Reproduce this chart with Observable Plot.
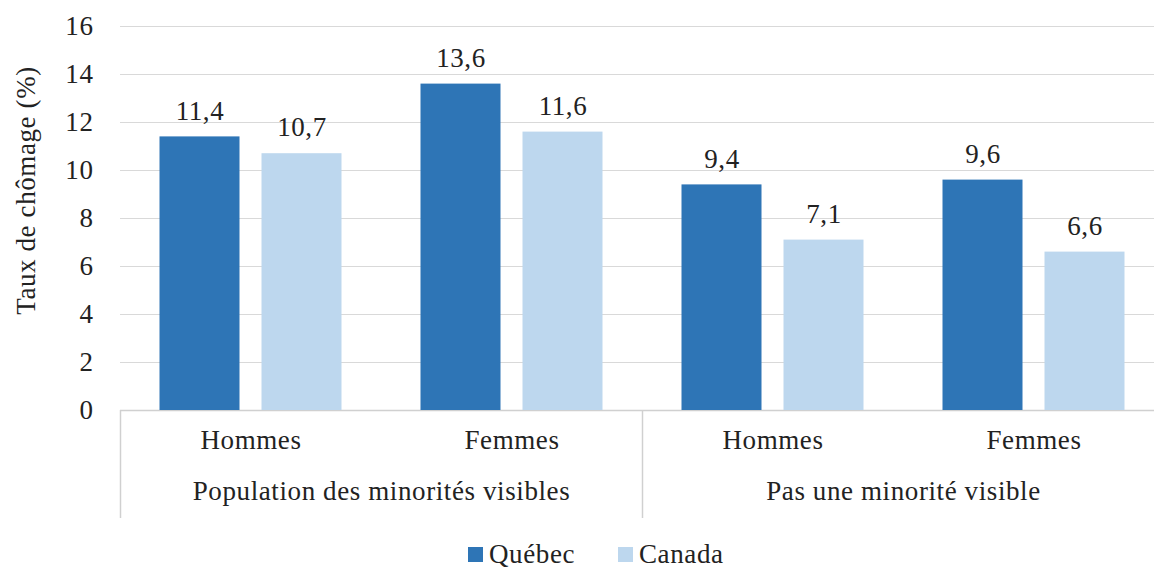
<!DOCTYPE html>
<html>
<head>
<meta charset="utf-8">
<script src="https://cdn.jsdelivr.net/npm/d3@7"></script>
<script src="https://cdn.jsdelivr.net/npm/@observablehq/plot@0.6"></script>
<style>
  html, body { margin: 0; padding: 0; background: #fff; }
  body { width: 1154px; height: 570px; overflow: hidden; font-family: "Liberation Serif", "Times New Roman", serif; color: #222; }
  #legend { position: relative; height: 40px; font-size: 27px; letter-spacing: 0.6px; }
  .item { position: absolute; top: 9px; display: flex; align-items: center; gap: 6px; line-height: 30px; }
  .sw { width: 15px; height: 15px; display: inline-block; }
</style>
</head>
<body>
<div id="chart"></div>
<div id="legend"></div>
<script>
// ---- data ----
const supergroups = ["Population des minorités visibles", "Pas une minorité visible"];
const sexes = ["Hommes", "Femmes"];
const seriesNames = ["Québec", "Canada"];
const quebecValues = [11.4, 13.6, 9.4, 9.6];
const canadaValues = [10.7, 11.6, 7.1, 6.6];
const yTicks = [0, 2, 4, 6, 8, 10, 12, 14, 16];
const yLabel = "Taux de chômage (%)";
const colors = ["#2E75B6", "#BDD7EE"];

// ---- table ----
const cats = [];
supergroups.forEach(g => sexes.forEach(s => cats.push({group: g, sex: s, key: g + "|" + s})));
const rows = [];
cats.forEach((c, i) => {
  rows.push({key: c.key, series: "Québec", value: quebecValues[i]});
  rows.push({key: c.key, series: "Canada", value: canadaValues[i]});
});
const firstOfGroup = cats.filter(c => c.sex === sexes[0]);
const fmt = v => v.toFixed(1).replace(".", ",");

const W = 1154, band = 261, barW = 80, gap = 22, FS = 27;
const outer = (band - 2 * barW - gap) / 2;
const off = (barW + gap) / 2;

const bar = (name, inL, inR) => Plot.barY(rows.filter(d => d.series === name), {
  x: "key", y: "value", fill: colors[seriesNames.indexOf(name)], insetLeft: inL, insetRight: inR
});
const lab = (name, dx) => Plot.text(rows.filter(d => d.series === name), {
  x: "key", y: "value", text: d => fmt(d.value), dx, dy: -26, lineAnchor: "middle", fill: "#222", fontSize: FS
});

const chart = Plot.plot({
  width: W,
  height: 530,
  marginLeft: 120,
  marginRight: 0,
  marginTop: 26,
  marginBottom: 120,
  style: {fontFamily: "'Liberation Serif', 'Times New Roman', serif", fontSize: FS + "px", letterSpacing: "0.6px", color: "#222", background: "#fff", overflow: "visible"},
  x: {domain: cats.map(c => c.key), range: [120, 120 + 4 * band], padding: 0, axis: null},
  y: {domain: [0, 16], ticks: yTicks, axis: null},
  marks: [
    Plot.ruleY(yTicks.filter(t => t > 0), {stroke: "#d9d9d9", strokeWidth: 1.2}),
    Plot.ruleY([0], {stroke: "#d0d0d0", strokeWidth: 1.5}),
    Plot.axisY({ticks: yTicks, tickSize: 0, tickPadding: 27, fontSize: FS, label: null}),
    Plot.text([yLabel], {frameAnchor: "left", textAnchor: "middle", lineAnchor: "middle", rotate: -90, dx: -94, dy: -28, fontSize: FS, fill: "#222"}),
    bar("Québec", outer, band - outer - barW),
    bar("Canada", band - outer - barW, outer),
    lab("Québec", -off),
    lab("Canada", off),
    Plot.text(cats, {x: "key", text: "sex", frameAnchor: "bottom", dy: 38, fill: "#222", fontSize: FS}),
    Plot.text(firstOfGroup, {x: "key", text: "group", frameAnchor: "bottom", dy: 89, dx: band / 2, fill: "#222", fontSize: FS}),
    Plot.ruleX(firstOfGroup, {x: "key", y1: 0, y2: -4.5, dx: -band / 2, stroke: "#d0d0d0", strokeWidth: 1.5})
  ]
});
document.getElementById("chart").appendChild(chart);

// ---- legend ----
const legend = document.getElementById("legend");
const lefts = [468, 618];
seriesNames.forEach((n, i) => {
  const it = document.createElement("div");
  it.className = "item";
  it.style.left = lefts[i] + "px";
  it.innerHTML = `<span class="sw" style="background:${colors[i]}"></span><span>${n}</span>`;
  legend.appendChild(it);
});
</script>
</body>
</html>
